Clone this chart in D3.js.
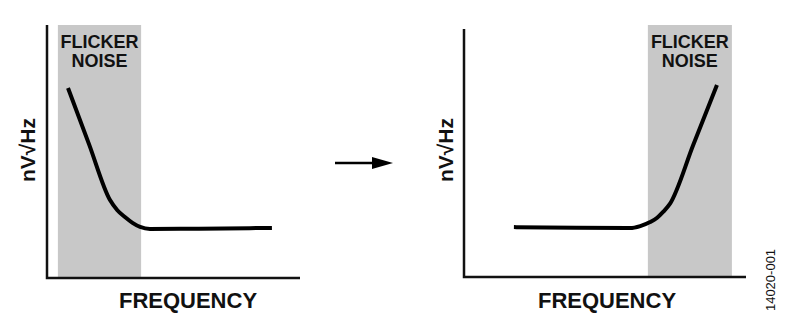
<!DOCTYPE html>
<html>
<head>
<meta charset="utf-8">
<script src="https://cdn.jsdelivr.net/npm/d3@7"></script>
<style>
  body { margin: 0; background: #fff; }
  svg text { font-family: Arial, "Liberation Sans", sans-serif; fill: #111; }
</style>
</head>
<body>
<svg id="chart" width="796" height="328"></svg>
<script>
// noise density (arbitrary units, 0-100) vs frequency (arbitrary units, 0-100)
const leftCurveX = [8.3, 16.6, 24.9, 27.8, 30.8, 33.8, 36.8, 40.7, 60, 88.9];
const leftCurveY = [75.1, 52.9, 30.8, 26.8, 24.1, 21.8, 20.2, 19.4, 19.5, 19.8];
const leftBand = [4.3, 37.2];

const rightCurveX = [17.7, 40, 58.9, 62.5, 66.0, 68.5, 70.6, 73.0, 81.35, 89.7];
const rightCurveY = [19.8, 19.5, 19.4, 20.2, 21.8, 23.5, 25.8, 29.0, 52.6, 76.2];
const rightBand = [65.2, 95.0];

const bandLabel = ['FLICKER', 'NOISE'];
const xTitle = 'FREQUENCY';
const yTitle = 'nV\u221AHz';
const figureId = '14020-001';

const svg = d3.select('#chart');

const panels = [
  { x0: 47, x1: 300, yTop: 25, axisTop: 25, yBot: 278, curveX: leftCurveX, curveY: leftCurveY, band: leftBand, yTitleX: 35, xTitleX: 188 },
  { x0: 464, x1: 746, yTop: 25, axisTop: 29, yBot: 277, curveX: rightCurveX, curveY: rightCurveY, band: rightBand, yTitleX: 453, xTitleX: 607 }
];

panels.forEach(p => {
  const x = d3.scaleLinear().domain([0, 100]).range([p.x0, p.x1]);
  const y = d3.scaleLinear().domain([0, 100]).range([p.yBot, p.yTop]);
  const g = svg.append('g');

  // shaded flicker region
  g.append('rect')
    .attr('x', x(p.band[0]))
    .attr('y', y(100))
    .attr('width', x(p.band[1]) - x(p.band[0]))
    .attr('height', y(0) - y(100))
    .attr('fill', '#c8c8c8');

  const cx = (x(p.band[0]) + x(p.band[1])) / 2;
  g.selectAll('text.band')
    .data(bandLabel)
    .join('text')
    .attr('class', 'band')
    .attr('x', cx)
    .attr('y', (d, i) => 48 + i * 19)
    .attr('text-anchor', 'middle')
    .attr('font-size', 18)
    .attr('font-weight', 'bold')
    .text(d => d);

  // axes
  g.append('path')
    .attr('d', `M${x(0)},${p.axisTop}V${y(0)}H${x(100)}`)
    .attr('fill', 'none')
    .attr('stroke', '#111')
    .attr('stroke-width', 2.5);

  const pts = p.curveX.map((v, i) => [v, p.curveY[i]]);
  const line = d3.line()
    .x(d => x(d[0]))
    .y(d => y(d[1]))
    .curve(d3.curveMonotoneX);

  g.append('path')
    .attr('d', line(pts))
    .attr('fill', 'none')
    .attr('stroke', '#000')
    .attr('stroke-width', 4)
    .attr('stroke-linecap', 'butt');

  g.append('text')
    .attr('x', p.xTitleX)
    .attr('y', 308)
    .attr('text-anchor', 'middle')
    .attr('font-size', 22)
    .attr('font-weight', 'bold')
    .text(xTitle);

  g.append('text')
    .attr('transform', `translate(${p.yTitleX},150) rotate(-90)`)
    .attr('text-anchor', 'middle')
    .attr('font-size', 21)
    .attr('font-weight', 'bold')
    .text(yTitle);
});

// arrow between panels
svg.append('line')
  .attr('x1', 335).attr('y1', 163)
  .attr('x2', 376).attr('y2', 163)
  .attr('stroke', '#000')
  .attr('stroke-width', 2.5);
svg.append('path')
  .attr('d', 'M372,157L393,163L372,169Z')
  .attr('fill', '#000');

svg.append('text')
  .attr('transform', 'translate(775,280) rotate(-90)')
  .attr('text-anchor', 'middle')
  .attr('font-size', 13)
  .text(figureId);
</script>
</body>
</html>
